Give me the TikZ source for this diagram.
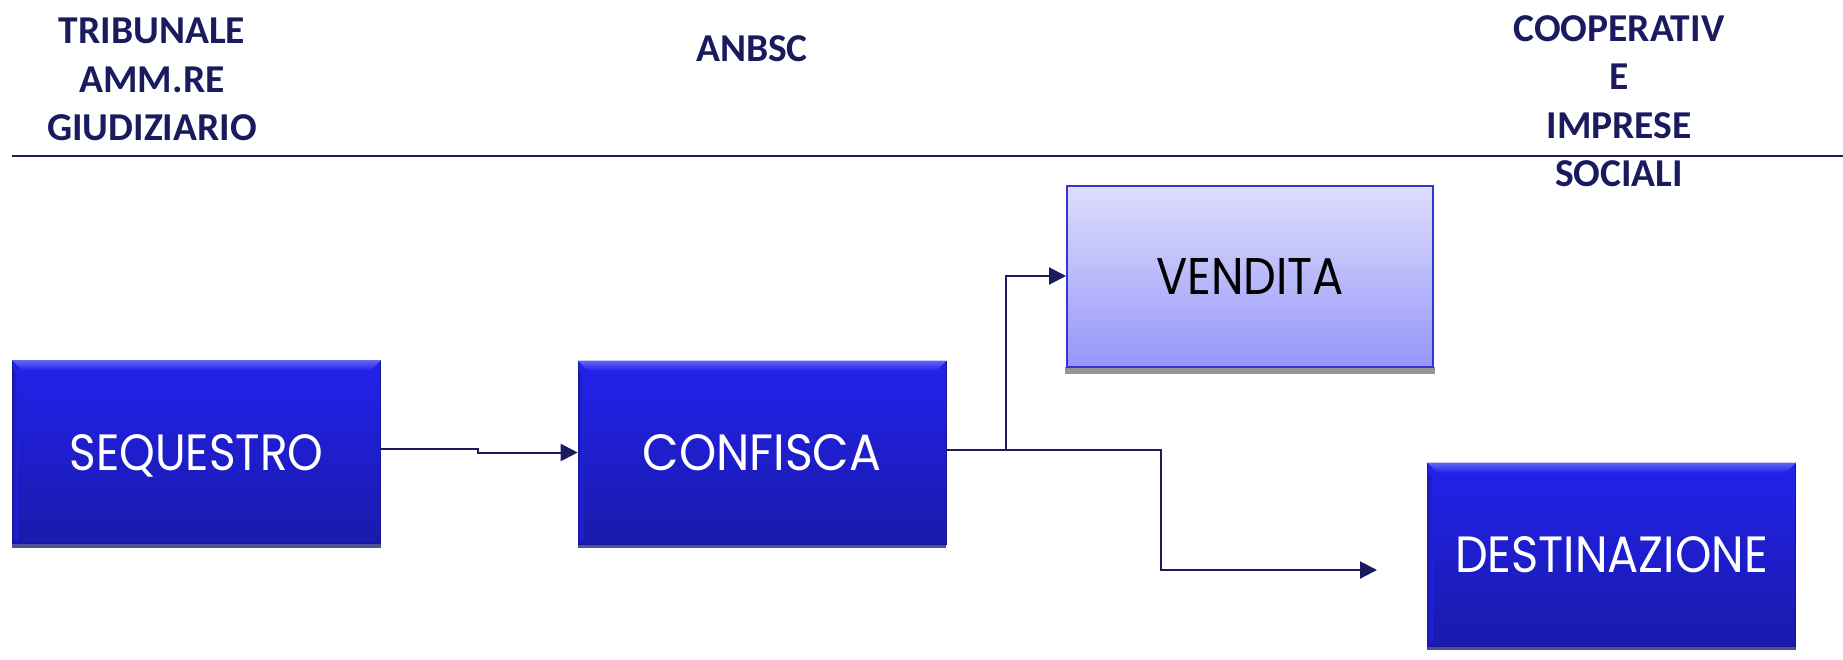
\documentclass[tikz,border=0pt]{standalone}
\usepackage{fontspec}
\setmainfont{Carlito}
\newfontfamily\geofont{Poppins}
\usetikzlibrary{arrows.meta,calc}

\definecolor{navy}{RGB}{26,26,94}
\definecolor{boxtop}{RGB}{34,34,236}
\definecolor{boxbot}{RGB}{26,26,172}
\definecolor{bevel}{RGB}{100,100,246}
\definecolor{boxshadow}{RGB}{80,80,150}
\definecolor{lighttop}{RGB}{222,222,252}
\definecolor{lightbot}{RGB}{150,150,250}
\definecolor{lightedge}{RGB}{52,52,210}
\definecolor{hatch}{RGB}{150,150,150}

% label of a box: scaled to a given width and a fixed cap height, depth dropped
\newcommand\boxlabel[2]{\raisebox{0pt}[\height][0pt]{\resizebox{#1}{36pt}{\geofont #2}}}

\tikzset{
  darkbox/.style={rectangle, inner sep=0pt, minimum width=368pt, minimum height=183pt,
    top color=boxtop, bottom color=boxbot, draw=boxbot!85!black, line width=0.6pt, text=white},
  lightbox/.style={rectangle, inner sep=0pt, minimum width=366pt, minimum height=181pt,
    top color=lighttop, bottom color=lightbot, draw=lightedge, line width=2pt, text=black},
  heading/.style={font=\fontsize{39.5}{48.5}\selectfont\bfseries, text=navy, align=center, inner sep=0pt},
  conn/.style={draw=navy, line width=2pt, -{Triangle[length=17pt,width=17pt]}},
  rule/.style={draw=navy, line width=2pt},
}

\begin{document}
\begin{tikzpicture}[x=1pt, y=-1pt]
  \useasboundingbox (0,0) rectangle (1843,659);

  % column headings and rule
  \node[heading, anchor=north] (trib) at (152,18) {TRIBUNALE\\AMM.RE\\GIUDIZIARIO};
  \node[heading, anchor=base] (anbsc) at (752,61) {ANBSC};
  \node[heading, anchor=north] (coop) at (1619,15) {COOPERATIV\\E\\IMPRESE\\SOCIALI};
  \coordinate (ruleL) at (12,156);
  \coordinate (ruleR) at (1843,156);
  \draw[rule] (ruleL) -- (ruleR);

  % shadow strip under the light box
  \fill[hatch] (1065,367) rectangle (1435,374);

  % process boxes
  \node[darkbox] (seq) at (196.5,452) {\boxlabel{254pt}{SEQUESTRO}};
  \node[darkbox] (conf) at (762,452.5) {\boxlabel{239pt}{CONFISCA}};
  \node[lightbox] (vend) at (1250,276) {\boxlabel{188pt}{VENDITA}};
  \node[darkbox] (dest) at (1611.5,554.5) {\boxlabel{313pt}{DESTINAZIONE}};

  % bevel and shadow of the dark boxes
  \foreach \n in {seq,conf,dest} {
    \shade[top color=bevel, bottom color=boxtop]
      (\n.north west) -- (\n.north east) -- ([xshift=-10pt,yshift=-10pt]\n.north east)
      -- ([xshift=10pt,yshift=-10pt]\n.north west) -- cycle;
    \shade[left color=boxbot, right color=boxtop]
      ([yshift=-10pt,xshift=0.3pt]\n.north west) -- ([xshift=6pt,yshift=-14pt]\n.north west)
      -- ([xshift=6pt,yshift=6pt]\n.south west) -- ([xshift=0.3pt]\n.south west) -- cycle;
    \fill[boxshadow] ([yshift=-0.3pt]\n.south west) rectangle ([yshift=-4pt]\n.south east);
  }

  % connectors
  \coordinate (destin) at (1377,570);
  \draw[conn] ([yshift=3pt]seq.east) -- ++(97,0) |- (conf.west);
  \draw[conn] ([yshift=3pt]conf.east) -- ++(60,0) |- (vend.west);
  \draw[conn] ([yshift=3pt]conf.east) -- ++(215,0) |- (destin);
\end{tikzpicture}
\end{document}
